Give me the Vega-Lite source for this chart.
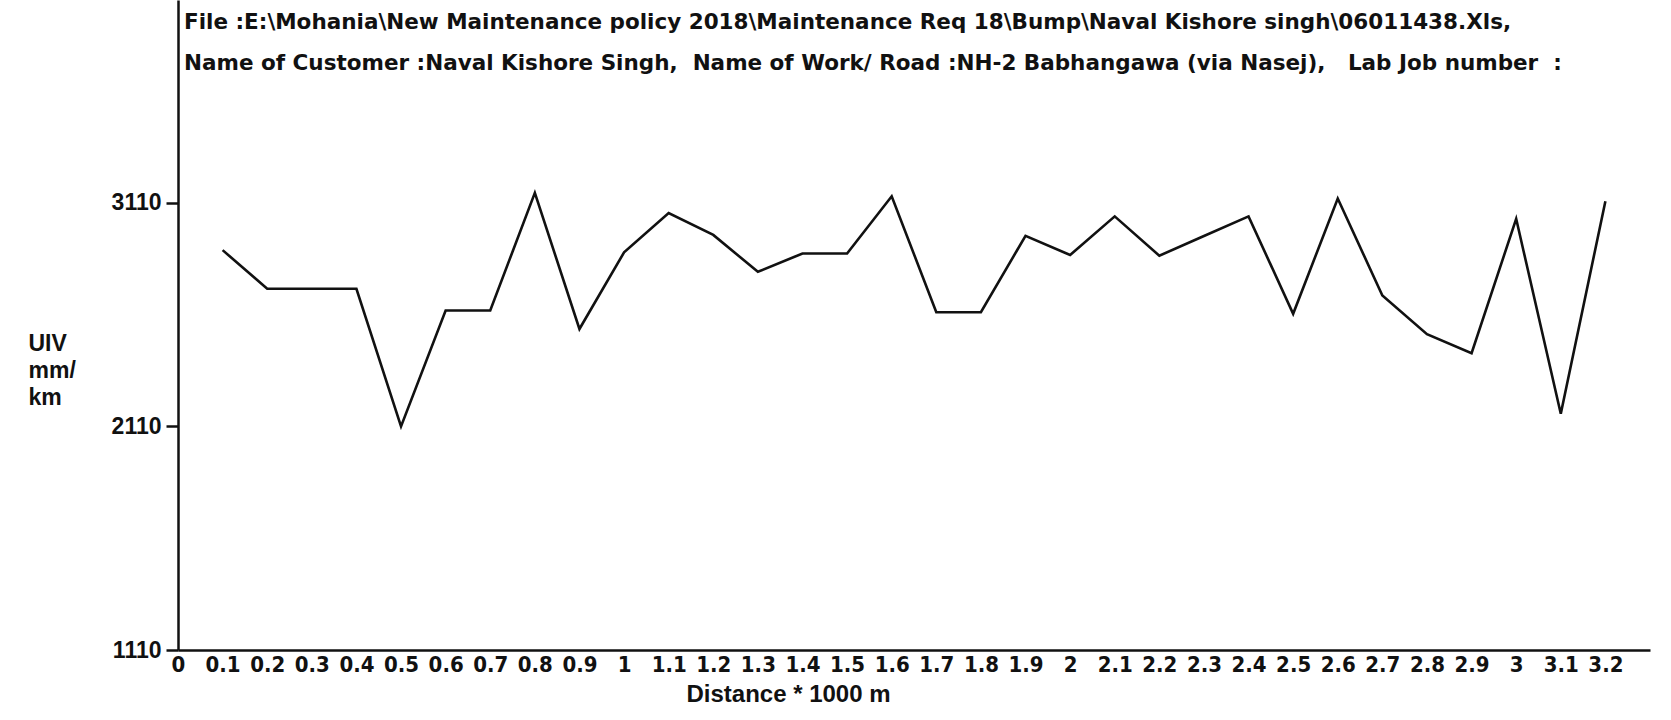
{
  "$schema": "https://vega.github.io/schema/vega-lite/v6.json",
  "autosize": {"type": "none"},
  "width": 1472,
  "height": 650,
  "padding": {"left": 178, "top": 0, "right": 21, "bottom": 70},
  "background": "white",
  "title": {
    "text": [
      "File :E:\\Mohania\\New Maintenance policy 2018\\Maintenance Req 18\\Bump\\Naval Kishore singh\\06011438.Xls,",
      "Name of Customer :Naval Kishore Singh,\u00a0 Name of Work/ Road :NH-2 Babhangawa (via Nasej),\u00a0\u00a0 Lab Job number\u00a0 :"
    ],
    "anchor": "start",
    "frame": "group",
    "orient": "top",
    "baseline": "top",
    "offset": 0,
    "dx": 6,
    "dy": 74,
    "lineHeight": 41,
    "font": "DejaVu Sans",
    "fontSize": 21.5,
    "fontWeight": "bold",
    "color": "#111111"
  },
  "config": {
    "view": {"stroke": null},
    "axis": {"grid": false, "domainColor": "#111111", "domainWidth": 2.5, "tickColor": "#111111", "tickWidth": 2.5, "labelColor": "#111111", "titleColor": "#111111"}
  },
  "data": {
    "values": [
      {"distance": 0.1, "uiv": 2899},
      {"distance": 0.2, "uiv": 2726},
      {"distance": 0.3, "uiv": 2726},
      {"distance": 0.4, "uiv": 2726},
      {"distance": 0.5, "uiv": 2110},
      {"distance": 0.6, "uiv": 2629},
      {"distance": 0.7, "uiv": 2629},
      {"distance": 0.8, "uiv": 3155},
      {"distance": 0.9, "uiv": 2546},
      {"distance": 1.0, "uiv": 2889},
      {"distance": 1.1, "uiv": 3065},
      {"distance": 1.2, "uiv": 2967},
      {"distance": 1.3, "uiv": 2802},
      {"distance": 1.4, "uiv": 2884},
      {"distance": 1.5, "uiv": 2884},
      {"distance": 1.6, "uiv": 3140},
      {"distance": 1.7, "uiv": 2621},
      {"distance": 1.8, "uiv": 2621},
      {"distance": 1.9, "uiv": 2963},
      {"distance": 2.0, "uiv": 2877},
      {"distance": 2.1, "uiv": 3050},
      {"distance": 2.2, "uiv": 2874},
      {"distance": 2.3, "uiv": 2962},
      {"distance": 2.4, "uiv": 3050},
      {"distance": 2.5, "uiv": 2614},
      {"distance": 2.6, "uiv": 3130},
      {"distance": 2.7, "uiv": 2696},
      {"distance": 2.8, "uiv": 2523},
      {"distance": 2.9, "uiv": 2438},
      {"distance": 3.0, "uiv": 3039},
      {"distance": 3.1, "uiv": 2167},
      {"distance": 3.2, "uiv": 3118}
    ]
  },
  "mark": {"type": "line", "color": "#111111", "strokeWidth": 2.6},
  "encoding": {
    "x": {
      "field": "distance",
      "type": "quantitative",
      "scale": {"domain": [0, 3.3], "nice": false, "zero": false},
      "axis": {
        "values": [0, 0.1, 0.2, 0.3, 0.4, 0.5, 0.6, 0.7, 0.8, 0.9, 1, 1.1, 1.2, 1.3, 1.4, 1.5, 1.6, 1.7, 1.8, 1.9, 2, 2.1, 2.2, 2.3, 2.4, 2.5, 2.6, 2.7, 2.8, 2.9, 3, 3.1, 3.2],
        "format": ".1~f",
        "ticks": false,
        "labelPadding": 4,
        "labelFont": "DejaVu Sans Condensed, Liberation Sans, sans-serif",
        "labelFontSize": 22,
        "labelFontWeight": "bold",
        "labelOverlap": false,
        "labelBound": false,
        "labelFlush": false,
        "title": "Distance * 1000 m",
        "titleFont": "Liberation Sans",
        "titleFontSize": 24,
        "titleFontWeight": "bold",
        "titleX": 610,
        "titleY": 51,
        "titleAlign": "center",
        "titleBaseline": "alphabetic"
      }
    },
    "y": {
      "field": "uiv",
      "type": "quantitative",
      "scale": {"domain": [1110, 4018], "nice": false, "zero": false},
      "axis": {
        "values": [1110, 2110, 3110],
        "format": "d",
        "tickSize": 12,
        "labelPadding": 5,
        "labelFont": "Liberation Sans",
        "labelFontSize": 23,
        "labelFontWeight": "bold",
        "labelOverlap": false,
        "labelBound": false,
        "labelFlush": false,
        "title": ["UIV", "mm/", "km"],
        "titleAngle": 0,
        "titleAlign": "left",
        "titleBaseline": "top",
        "titleX": -150,
        "titleY": 332,
        "titleLineHeight": 27,
        "titleFont": "Liberation Sans",
        "titleFontSize": 23,
        "titleFontWeight": "bold"
      }
    }
  }
}
